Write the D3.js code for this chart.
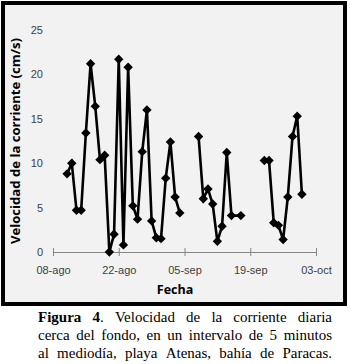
<!DOCTYPE html>
<html><head><meta charset="utf-8">
<script src="https://cdn.jsdelivr.net/npm/d3@7"></script>
<style>html,body{margin:0;padding:0;background:#fff;}svg{display:block;}</style>
</head><body>
<svg id="c" width="350" height="364"></svg>
<script>
// ---- data ----
const dates = ["2011-08-11","2011-08-12","2011-08-13","2011-08-14","2011-08-15","2011-08-16","2011-08-17","2011-08-18","2011-08-19","2011-08-20","2011-08-21","2011-08-22","2011-08-23","2011-08-24","2011-08-25","2011-08-26","2011-08-27","2011-08-28","2011-08-29","2011-08-30","2011-08-31","2011-09-01","2011-09-02","2011-09-03","2011-09-04","2011-09-05","2011-09-06","2011-09-07","2011-09-08","2011-09-09","2011-09-10","2011-09-11","2011-09-12","2011-09-13","2011-09-14","2011-09-15","2011-09-17","2011-09-18","2011-09-19","2011-09-20","2011-09-21","2011-09-22","2011-09-23","2011-09-24","2011-09-25","2011-09-26","2011-09-27","2011-09-28","2011-09-29","2011-09-30"];
const velocidad = [8.8,10.0,4.7,4.7,13.4,21.2,16.4,10.4,10.9,0.0,2.0,21.7,0.8,20.8,5.2,3.7,11.3,16.0,3.5,1.6,1.5,8.3,12.4,6.2,4.4,null,null,null,13.0,6.0,7.1,5.4,1.2,2.9,11.2,4.1,4.1,null,null,null,null,10.3,10.3,3.3,3.0,1.4,6.2,13.0,15.3,6.5];
const xTickDates = ["2011-08-08","2011-08-22","2011-09-05","2011-09-19","2011-10-03"];
const xTickLabels = ["08-ago","22-ago","05-sep","19-sep","03-oct"];
const yTicks = [0,5,10,15,20,25];
const yTitle = "Velocidad de la corriente (cm/s)";
const xTitle = "Fecha";
const captionLines = [
  [[["Figura",true]],[["4",true],[".",false]],[["Velocidad",false]],[["de",false]],[["la",false]],[["corriente",false]],[["diaria",false]]],
  ["cerca","del","fondo,","en","un","intervalo","de","5","minutos"].map(w=>[[w,false]]),
  ["al","mediodía,","playa","Atenas,","bahía","de","Paracas."].map(w=>[[w,false]])
];

const parse = d3.utcParse("%Y-%m-%d");
const data = dates.map((d,i)=>({date:parse(d), v:velocidad[i]}));

const svg = d3.select("#c");
// chart panel
svg.append("rect").attr("x",3).attr("y",3).attr("width",342).attr("height",301)
  .attr("fill","#f2f2f2").attr("stroke","#000").attr("stroke-width",4);

const x = d3.scaleUtc().domain([parse(xTickDates[0]), parse(xTickDates[xTickDates.length-1])]).range([53,316]);
const y = d3.scaleLinear().domain([0,25]).range([252,30]);

// y tick labels
const yAxis = svg.append("g").attr("transform","translate(53,0)")
  .call(d3.axisLeft(y).tickValues(yTicks).tickSize(0).tickPadding(10));
yAxis.select(".domain").remove();
yAxis.selectAll("text").attr("font-family","Liberation Sans, Arial, sans-serif").attr("font-size",11).attr("fill","#404040");

// x axis
const xAxis = svg.append("g").attr("transform","translate(0,252)")
  .call(d3.axisBottom(x).tickValues(xTickDates.map(parse)).tickFormat((d,i)=>xTickLabels[i]).tickSizeInner(4).tickSizeOuter(0).tickPadding(10));
xAxis.select(".domain").attr("stroke","#868686").attr("stroke-width",1);
xAxis.selectAll(".tick line").attr("stroke","#868686").attr("y1",-4).attr("y2",4);
xAxis.selectAll("text").attr("font-family","Liberation Sans, Arial, sans-serif").attr("font-size",11).attr("fill","#404040");

// line
const line = d3.line().defined(d=>d.v!==null).x(d=>x(d.date)).y(d=>y(d.v));
svg.append("path").datum(data).attr("d",line).attr("fill","none").attr("stroke","#000").attr("stroke-width",2.6).attr("stroke-linejoin","miter");

// markers
svg.append("g").selectAll("path").data(data.filter(d=>d.v!==null)).join("path")
  .attr("d", d3.symbol(d3.symbolSquare, 44)())
  .attr("transform", d=>`translate(${x(d.date)},${y(d.v)}) rotate(45)`)
  .attr("fill","#000");

// axis titles
svg.append("text").attr("transform","translate(20,141) rotate(-90)")
  .attr("text-anchor","middle").attr("font-family","Open Sans, sans-serif").attr("font-weight","bold")
  .attr("font-size",13).attr("textLength",206).attr("lengthAdjust","spacingAndGlyphs").attr("fill","#000").text(yTitle);
svg.append("text").attr("x",175).attr("y",294).attr("text-anchor","middle")
  .attr("font-family","Open Sans, sans-serif").attr("font-weight","bold").attr("font-size",12.5).attr("fill","#000").text(xTitle);

// caption, justified
const capX0 = 38, capX1 = 332, capY = [322, 340, 358];
captionLines.forEach((words, li) => {
  const g = svg.append("g");
  const nodes = words.map(runs => {
    const t = g.append("text").attr("y",capY[li]).attr("font-family","Liberation Serif, Times New Roman, serif").attr("font-size",15).attr("fill","#000");
    runs.forEach(([s,b]) => t.append("tspan").attr("font-weight", b?"bold":"normal").text(s));
    return t;
  });
  const widths = nodes.map(n=>n.node().getComputedTextLength());
  const total = d3.sum(widths);
  const gap = (capX1 - capX0 - total)/(nodes.length-1);
  let cx = capX0;
  nodes.forEach((n,i)=>{ n.attr("x",cx); cx += widths[i]+gap; });
});
</script>
</body></html>
